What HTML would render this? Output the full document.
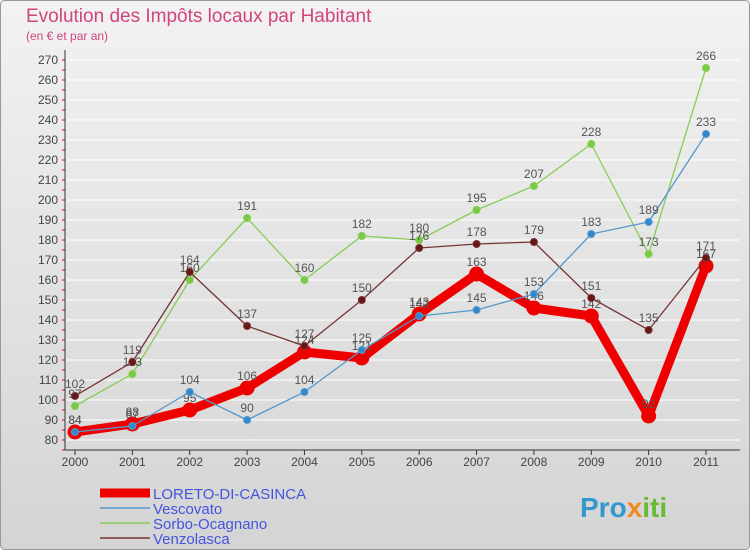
<!DOCTYPE html>
<html><head><meta charset="utf-8"><style>
body{margin:0;width:750px;height:550px;overflow:hidden;font-family:"Liberation Sans",sans-serif}
svg text{font-family:"Liberation Sans",sans-serif}
</style></head><body>
<svg id="c" width="750" height="550" xmlns="http://www.w3.org/2000/svg">
<defs><linearGradient id="bg" x1="0" y1="0" x2="0" y2="1"><stop offset="0" stop-color="#f2f2f2"/><stop offset="1" stop-color="#d4d4d4"/></linearGradient></defs>
<rect x="0.5" y="0.5" width="749" height="549" rx="4" fill="url(#bg)" stroke="#999"/>
<text x="26" y="22" font-size="19" fill="#d1447d">Evolution des Impôts locaux par Habitant</text>
<text x="26" y="40" font-size="12" fill="#d1447d">(en € et par an)</text>
<g id="grid"></g><g id="axes"></g><g id="series"></g><g id="legend"></g>
<text x="580" y="517" font-size="28" font-weight="bold" fill="#3399cc">Pro<tspan fill="#f08a1e">x</tspan><tspan fill="#66bb33">iti</tspan></text>
</svg>
<script>
const years=[2000,2001,2002,2003,2004,2005,2006,2007,2008,2009,2010,2011];
const yTicks=[80,90,100,110,120,130,140,150,160,170,180,190,200,210,220,230,240,250,260,270];
const loreto=[84,88,95,106,124,121,143,163,146,142,92,167];
const vescovato=[84,87,104,90,104,125,142,145,153,183,189,233];
const sorbo=[97,113,160,191,160,182,180,195,207,228,173,266];
const venzolasca=[102,119,164,137,127,150,176,178,179,151,135,171];
const NS="http://www.w3.org/2000/svg";
const X0=75,X1=706,Y0=440,PPU=2;
const xs=i=>X0+(X1-X0)*i/(years.length-1);
const ys=v=>Y0-(v-80)*PPU;
function mk(t,a,p){const e=document.createElementNS(NS,t);for(const k in a)e.setAttribute(k,a[k]);p.appendChild(e);return e;}
const grid=document.getElementById('grid'),axes=document.getElementById('axes'),ser=document.getElementById('series'),leg=document.getElementById('legend');
yTicks.forEach(v=>{
 const l=mk('line',{x1:65,x2:740,y1:ys(v),y2:ys(v),stroke:'#fff','stroke-width':1},grid);
 
 
 const t=mk('text',{x:58,y:ys(v)+4,'font-size':12,fill:'#444','text-anchor':'end'},axes);
 t.textContent=v;
 
 
 mk('line',{x1:62,x2:65,y1:ys(v),y2:ys(v),stroke:'#e00'},axes);
 mk('line',{x1:62,x2:65,y1:ys(v)+10,y2:ys(v)+10,stroke:'#e00'},axes);
});
mk('line',{x1:65,x2:65,y1:50,y2:450,stroke:'#333'},axes);
mk('line',{x1:65,x2:740,y1:450,y2:450,stroke:'#333'},axes);
years.forEach((y,i)=>{
 mk('line',{x1:xs(i),x2:xs(i),y1:450,y2:455,stroke:'#333'},axes);
 const t=mk('text',{x:xs(i),y:466,'font-size':12,fill:'#444','text-anchor':'middle'},axes);
 t.textContent=y;
 
 
});
function draw(data,color,w,r,name,dot){
 const g=mk('g',{},ser);
 
 
 mk('polyline',{points:data.map((v,i)=>xs(i)+','+ys(v)).join(' '),fill:'none',stroke:color,'stroke-width':w,'stroke-linejoin':'round'},g);
 data.forEach((v,i)=>{
  const c=mk('circle',{cx:xs(i),cy:ys(v),r:r,fill:dot,stroke:color,'stroke-width':1},g);
  
  
  const t=mk('text',{x:xs(i),y:ys(v)-8,'font-size':12,fill:'#555','text-anchor':'middle'},g);
  t.textContent=v;
 });
}
draw(loreto,'#ee0000',9,7,'series-loreto','#ee0000');
draw(sorbo,'#88cc55',1.3,3.5,'series-sorbo','#77cc44');
draw(venzolasca,'#773333',1.3,3.5,'series-venzolasca','#661818');
draw(vescovato,'#5599cc',1.3,3.5,'series-vescovato','#3388cc');
const names=['LORETO-DI-CASINCA','Vescovato','Sorbo-Ocagnano','Venzolasca'];
const cols=['#ee0000','#5599cc','#88cc55','#773333'];
const wids=[9,1.5,1.5,1.5];
names.forEach((n,i)=>{
 const y=493+i*15;
 const g=mk('g',{},leg);
 
 
 mk('line',{x1:100,x2:150,y1:y,y2:y,stroke:cols[i],'stroke-width':wids[i]},g);
 const t=mk('text',{x:153,y:y+6,'font-size':15,fill:'#4455dd'},g);
 t.textContent=n;
});
</script>
</body></html>
